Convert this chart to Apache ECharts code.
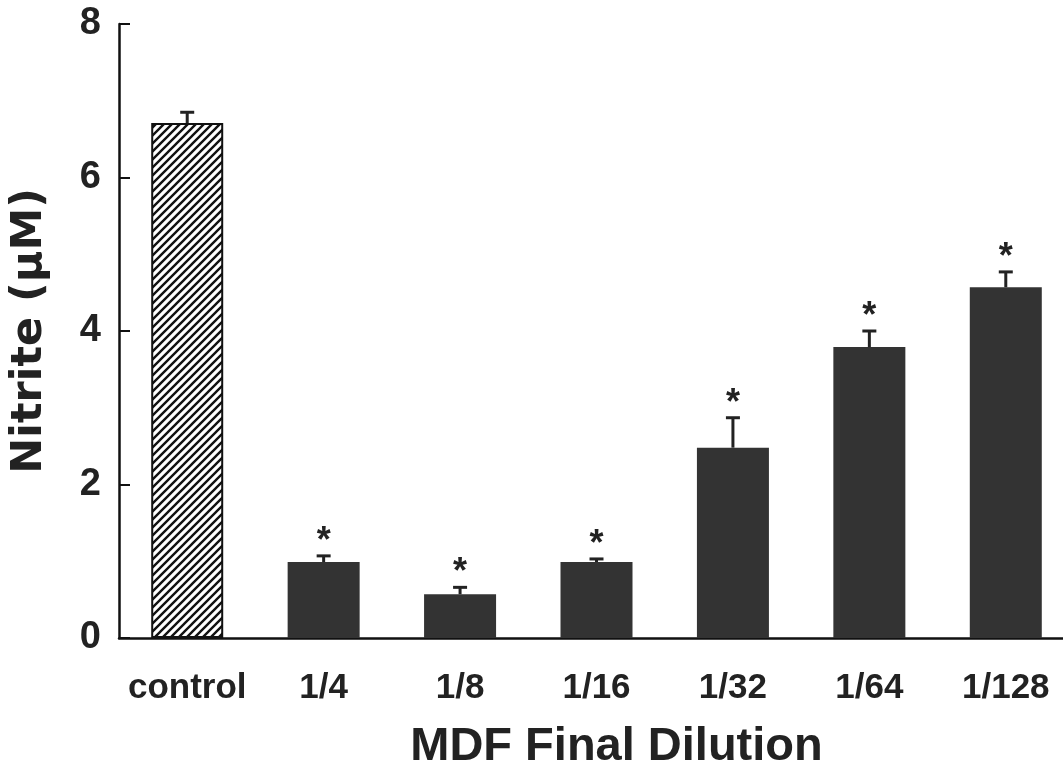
<!DOCTYPE html>
<html>
<head>
<meta charset="utf-8">
<script src="https://cdn.jsdelivr.net/npm/echarts@6/dist/echarts.min.js"></script>
<style>
	html, body { margin: 0; padding: 0; background: #fff; }
	#chart { width: 1063px; height: 769px; }
</style>
</head>
<body>
<div id="chart"></div>
<script>
	// 数据
	var categories = ['control', '1/4', '1/8', '1/16', '1/32', '1/64', '1/128'];
	var nitrite = [6.71, 0.99, 0.57, 0.99, 2.48, 3.79, 4.57];
	var errors = [0.14, 0.08, 0.09, 0.04, 0.39, 0.21, 0.20];
	var significant = [false, true, true, true, true, true, true];
	var yTicks = [0, 2, 4, 6, 8];

	// 斜线填充 (control)
	function hatch() {
		var c = document.createElement('canvas');
		c.width = 8;
		c.height = 8;
		var ctx = c.getContext('2d');
		ctx.fillStyle = '#fff';
		ctx.fillRect(0, 0, 8, 8);
		ctx.strokeStyle = '#111';
		ctx.lineWidth = 2.4;
		ctx.beginPath();
		ctx.moveTo(-1, 9); ctx.lineTo(9, -1);
		ctx.moveTo(-1, 1); ctx.lineTo(1, -1);
		ctx.moveTo(7, 9); ctx.lineTo(9, 7);
		ctx.stroke();
		return c;
	}

	var barData = nitrite.map(function (v, i) {
		if (i === 0) {
			return {
				value: v,
				itemStyle: {
					color: { image: hatch(), repeat: 'repeat' },
					borderColor: '#111',
					borderWidth: 2
				}
			};
		}
		return v;
	});

	var errData = categories.map(function (c, i) {
		return [i, nitrite[i], errors[i], significant[i] ? 1 : 0];
	});

	var myChart = echarts.init(document.getElementById('chart'));
	var option = {
		animation: false,
		backgroundColor: '#fff',
		grid: { left: 119, top: 24, width: 955, height: 614, outerBoundsMode: 'none', containLabel: false },
		xAxis: {
			type: 'category',
			data: categories,
			name: 'MDF Final Dilution',
			nameLocation: 'middle',
			nameGap: 86,
			nameTextStyle: {
				fontFamily: 'Liberation Sans',
				fontWeight: 'bold',
				fontSize: 47,
				color: '#222',
				padding: [0, 0, 0, 40]
			},
			axisLine: { lineStyle: { color: '#111', width: 2.5 } },
			axisTick: { alignWithLabel: true, length: 7, lineStyle: { color: '#111', width: 2 } },
			axisLabel: {
				interval: 0,
				margin: 33,
				fontFamily: 'Liberation Sans',
				fontWeight: 'bold',
				fontSize: 35,
				color: '#222'
			}
		},
		yAxis: {
			type: 'value',
			min: yTicks[0],
			max: yTicks[yTicks.length - 1],
			interval: 2,
			name: 'Nitrite (μM)',
			nameLocation: 'middle',
			nameGap: 68,
			nameTextStyle: {
				fontFamily: 'DejaVu Sans',
				fontWeight: 'bold',
				fontSize: 43,
				color: '#222'
			},
			axisLine: { show: true, lineStyle: { color: '#111', width: 2.5 } },
			axisTick: { show: true, inside: true, length: 11, lineStyle: { color: '#111', width: 2 } },
			splitLine: { show: false },
			axisLabel: {
				margin: 18,
				fontFamily: 'Liberation Sans',
				fontWeight: 'bold',
				fontSize: 38,
				color: '#222'
			}
		},
		series: [{
			type: 'bar',
			data: barData,
			barWidth: 72,
			itemStyle: { color: '#333' }
		}, {
			type: 'custom',
			data: errData,
			z: 5,
			renderItem: function (params, api) {
				var i = api.value(0);
				var top = api.value(1) + api.value(2);
				var base = api.coord([i, api.value(1)]);
				var tip = api.coord([i, top]);
				var children = [{
					type: 'line',
					shape: { x1: base[0], y1: base[1], x2: tip[0], y2: tip[1] },
					style: { stroke: '#222', lineWidth: 3 }
				}, {
					type: 'line',
					shape: { x1: tip[0] - 7, y1: tip[1], x2: tip[0] + 7, y2: tip[1] },
					style: { stroke: '#222', lineWidth: 3 }
				}];
				if (api.value(3)) {
					children.push({
						type: 'text',
						style: {
							text: '*',
							x: tip[0],
							y: tip[1] - 14,
							align: 'center',
							verticalAlign: 'middle',
							font: 'bold 36px "Liberation Sans"',
							fill: '#222'
						}
					});
				}
				return { type: 'group', children: children };
			}
		}]
	};
	myChart.setOption(option);
</script>
</body>
</html>
